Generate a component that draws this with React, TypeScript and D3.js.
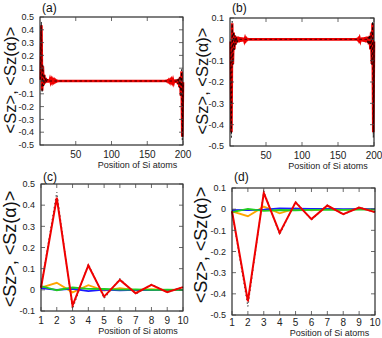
import React from 'react';
import * as d3 from 'd3';

// ---- data ----
// sites 1..10 (close-up panels)
const SITES_10 = [1, 2, 3, 4, 5, 6, 7, 8, 9, 10];

const C_RED = [0.01, 0.435, -0.075, 0.115, -0.032, 0.047, -0.016, 0.024, -0.011, 0.013];
const C_BLACK = [0.012, 0.462, -0.09, 0.122, -0.04, 0.052, -0.02, 0.026, -0.012, 0.014];
const C_ORANGE = [0.01, 0.033, -0.012, 0.022, -0.004, 0.008, -0.002, 0.003, -0.001, 0.001];
const C_GREEN = [0.017, -0.002, 0.011, 0.005, 0.004, 0.001, 0.002, 0, 0.001, 0];
const C_BLUE = [0.008, 0, 0.005, -0.006, 0.001, -0.002, 0, -0.001, 0, 0];

const D_RED = [-0.01, -0.435, 0.077, -0.112, 0.032, -0.047, 0.017, -0.024, 0.008, -0.014];
const D_BLACK = [-0.012, -0.46, 0.085, -0.12, 0.036, -0.05, 0.02, -0.026, 0.01, -0.015];
const D_ORANGE = [-0.01, -0.033, 0.012, -0.02, 0.004, -0.005, 0.002, -0.003, 0.001, -0.001];
const D_GREEN = [-0.014, 0.001, -0.008, -0.004, -0.005, -0.003, -0.002, -0.003, -0.002, -0.002];
const D_BLUE = [-0.005, -0.004, -0.002, 0.004, 0.002, 0.001, 0.001, 0, 0, 0];

// full chain of 200 sites: edge values + flat middle
const A_RED_HEAD = [0.01, 0.435, -0.075, 0.115, -0.032, 0.047, -0.016, 0.024, -0.011, 0.013, -0.012, 0.014, -0.01, 0.012, -0.009, 0.01, -0.008, 0.009, -0.006, 0.007, -0.005, 0.005, -0.003, 0.002, -0.001];
const A_RED_TAIL = [0.001, -0.002, 0.003, -0.005, 0.005, -0.007, 0.006, -0.009, 0.008, -0.01, 0.009, -0.012, 0.01, -0.014, 0.012, -0.013, 0.011, -0.024, 0.016, -0.047, 0.032, -0.115, 0.075, -0.435, -0.01];
const A_BLACK_HEAD = [0.012, 0.462, -0.09, 0.122, -0.04, 0.052, -0.02, 0.026, -0.012, 0.014];
const A_BLACK_TAIL = [-0.014, 0.012, -0.026, 0.02, -0.052, 0.04, -0.122, 0.09, -0.462, -0.012];

const B_RED_HEAD = [-0.01, -0.435, 0.075, -0.115, 0.032, -0.047, 0.016, -0.024, 0.011, -0.013, 0.012, -0.014, 0.01, -0.012, 0.009, -0.01, 0.008, -0.009, 0.006, -0.007, 0.005, -0.005, 0.003, -0.002, 0.001];
const B_RED_TAIL = [0.001, -0.002, 0.003, -0.005, 0.005, -0.007, 0.006, -0.009, 0.008, -0.01, 0.009, -0.012, 0.01, -0.014, 0.012, -0.013, 0.011, -0.024, 0.016, -0.047, 0.032, -0.115, 0.075, -0.435, -0.01];
const B_BLACK_HEAD = [-0.012, -0.46, 0.085, -0.12, 0.036, -0.05, 0.02, -0.026, 0.01, -0.015];
const B_BLACK_TAIL = [-0.015, 0.01, -0.026, 0.02, -0.05, 0.036, -0.12, 0.085, -0.46, -0.012];

const FLAT_150 = [
  0, 0, 0, 0, 0, 0, 0, 0, 0, 0, 0, 0, 0, 0, 0, 0, 0, 0, 0, 0, 0, 0, 0, 0, 0, 0, 0, 0, 0, 0,
  0, 0, 0, 0, 0, 0, 0, 0, 0, 0, 0, 0, 0, 0, 0, 0, 0, 0, 0, 0, 0, 0, 0, 0, 0, 0, 0, 0, 0, 0,
  0, 0, 0, 0, 0, 0, 0, 0, 0, 0, 0, 0, 0, 0, 0, 0, 0, 0, 0, 0, 0, 0, 0, 0, 0, 0, 0, 0, 0, 0,
  0, 0, 0, 0, 0, 0, 0, 0, 0, 0, 0, 0, 0, 0, 0, 0, 0, 0, 0, 0, 0, 0, 0, 0, 0, 0, 0, 0, 0, 0,
  0, 0, 0, 0, 0, 0, 0, 0, 0, 0, 0, 0, 0, 0, 0, 0, 0, 0, 0, 0, 0, 0, 0, 0, 0, 0, 0, 0, 0, 0,
];
const FLAT_30 = [0, 0, 0, 0, 0, 0, 0, 0, 0, 0, 0, 0, 0, 0, 0, 0, 0, 0, 0, 0, 0, 0, 0, 0, 0, 0, 0, 0, 0, 0];

const A_RED = [...A_RED_HEAD, ...FLAT_150, ...A_RED_TAIL];
const A_BLACK = [...A_BLACK_HEAD, ...FLAT_30, ...FLAT_150, ...A_BLACK_TAIL];
const B_RED = [...B_RED_HEAD, ...FLAT_150, ...B_RED_TAIL];
const B_BLACK = [...B_BLACK_HEAD, ...FLAT_30, ...FLAT_150, ...B_BLACK_TAIL];
const SITES_200 = A_RED.map((_, i) => i + 1);

// tick values
const X_TICKS_200 = [50, 100, 150, 200];
const X_TICKS_10 = [1, 2, 3, 4, 5, 6, 7, 8, 9, 10];
const Y_TICKS_FULL = [-0.5, -0.4, -0.3, -0.2, -0.1, 0, 0.1, 0.2, 0.3, 0.4, 0.5];
const Y_TICKS_NEG = [-0.5, -0.4, -0.3, -0.2, -0.1, 0, 0.1];
const Y_TICKS_POS = [-0.1, 0, 0.1, 0.2, 0.3, 0.4, 0.5];

const RED = '#f00000';
const ORANGE = '#ffa500';
const GREEN = '#22cc22';
const BLUE = '#1a1aff';

const fmt = (v: number) => (Math.abs(v) < 1e-9 ? '0' : String(+v.toFixed(1)));

type Series = { x: number[]; y: number[]; color: string; width: number; dash?: string };

type PanelProps = {
  tag: string;
  xDomain: [number, number];
  yDomain: [number, number];
  left: number;
  right: number;
  top: number;
  bottom: number;
  xTicks: number[];
  yTicks: number[];
  series: Series[];
  yLabelX: number;
  yLabelY: number;
  yLabelSize: number;
  tagY: number;
  tickDy: number;
  titleDy: number;
};

const Panel = (p: PanelProps) => {
  const x = d3.scaleLinear().domain(p.xDomain).range([p.left, p.right]);
  const y = d3.scaleLinear().domain(p.yDomain).range([p.bottom, p.top]);
  const line = d3.line<[number, number]>().x(d => x(d[0])).y(d => y(d[1]));
  const tl = 4;
  const xMid = (p.left + p.right) / 2;

  return (
    <g>
      {p.series.map((s, i) => (
        <path
          key={i}
          d={line(s.x.map((v, j) => [v, s.y[j]] as [number, number])) || ''}
          fill="none"
          stroke={s.color}
          strokeWidth={s.width}
          strokeDasharray={s.dash}
          strokeLinejoin="miter"
        />
      ))}

      {/* frame + mirrored inward ticks */}
      <rect x={p.left} y={p.top} width={p.right - p.left} height={p.bottom - p.top}
        fill="none" stroke="#000" strokeWidth={1} />
      {p.xTicks.map(t => (
        <g key={'x' + t}>
          <line x1={x(t)} x2={x(t)} y1={p.bottom} y2={p.bottom - tl} stroke="#444" strokeWidth={0.8} />
          <line x1={x(t)} x2={x(t)} y1={p.top} y2={p.top + tl} stroke="#444" strokeWidth={0.8} />
          <text x={x(t)} y={p.bottom + p.tickDy} fontSize={10} textAnchor="middle" fill="#222">{t}</text>
        </g>
      ))}
      {p.yTicks.map(t => (
        <g key={'y' + t}>
          <line x1={p.left} x2={p.left + tl} y1={y(t)} y2={y(t)} stroke="#444" strokeWidth={0.8} />
          <line x1={p.right} x2={p.right - tl} y1={y(t)} y2={y(t)} stroke="#444" strokeWidth={0.8} />
          <text x={p.left - 6} y={y(t) + 3.2} fontSize={9} textAnchor="end" fill="#222">{fmt(t)}</text>
        </g>
      ))}

      <text x={xMid + 26} y={p.bottom + p.titleDy} fontSize={9} textAnchor="middle" fill="#222">
        Position of Si atoms
      </text>
      <text x={p.left + 2} y={p.tagY} fontSize={12} fill="#111">{p.tag}</text>
      <text
        transform={`translate(${p.yLabelX},${p.yLabelY}) rotate(-90)`}
        fontSize={p.yLabelSize}
        textAnchor="middle"
        fill="#111"
      >
        {'<Sz>, <Sz(\u03b1)>'}
      </text>
    </g>
  );
};

export default function App() {
  const closeUp = (red: number[], black: number[], orange: number[], green: number[], blue: number[]): Series[] => [
    { x: SITES_10, y: black, color: '#555', width: 1.2, dash: '1.5,2.5' },
    { x: SITES_10, y: orange, color: ORANGE, width: 1.8 },
    { x: SITES_10, y: blue, color: BLUE, width: 1.8 },
    { x: SITES_10, y: green, color: GREEN, width: 1.8 },
    { x: SITES_10, y: red, color: RED, width: 2 },
  ];

  return (
    <svg width={382} height={338} style={{ position: 'absolute', left: 0, top: 0, background: '#fff' }}
      fontFamily="'Liberation Sans', Arial, sans-serif">
      <Panel tag="(a)" xDomain={[0, 200]} yDomain={[-0.5, 0.5]} left={40} right={183} top={17} bottom={145}
        xTicks={X_TICKS_200} yTicks={Y_TICKS_FULL}
        series={[
          { x: SITES_200, y: A_RED, color: RED, width: 2.6 },
          { x: SITES_200, y: A_BLACK, color: '#000', width: 0.8, dash: '2.5,2.5' },
        ]}
        yLabelX={16} yLabelY={80} yLabelSize={16.5} tagY={12} tickDy={13} titleDy={23} />
      <Panel tag="(b)" xDomain={[0, 200]} yDomain={[-0.5, 0.1]} left={230} right={374} top={18} bottom={146}
        xTicks={X_TICKS_200} yTicks={Y_TICKS_NEG}
        series={[
          { x: SITES_200, y: B_RED, color: RED, width: 2.6 },
          { x: SITES_200, y: B_BLACK, color: '#000', width: 0.8, dash: '2.5,2.5' },
        ]}
        yLabelX={207.5} yLabelY={81} yLabelSize={16.5} tagY={12} tickDy={13} titleDy={23} />
      <Panel tag="(c)" xDomain={[1, 10]} yDomain={[-0.1, 0.5]} left={41} right={183} top={184} bottom={311}
        xTicks={X_TICKS_10} yTicks={Y_TICKS_POS}
        series={closeUp(C_RED, C_BLACK, C_ORANGE, C_GREEN, C_BLUE)}
        yLabelX={16} yLabelY={249} yLabelSize={18} tagY={181} tickDy={12.5} titleDy={23} />
      <Panel tag="(d)" xDomain={[1, 10]} yDomain={[-0.5, 0.1]} left={232} right={375} top={188} bottom={315}
        xTicks={X_TICKS_10} yTicks={Y_TICKS_NEG}
        series={closeUp(D_RED, D_BLACK, D_ORANGE, D_GREEN, D_BLUE)}
        yLabelX={207} yLabelY={245} yLabelSize={18} tagY={181} tickDy={10.5} titleDy={21} />
    </svg>
  );
}
